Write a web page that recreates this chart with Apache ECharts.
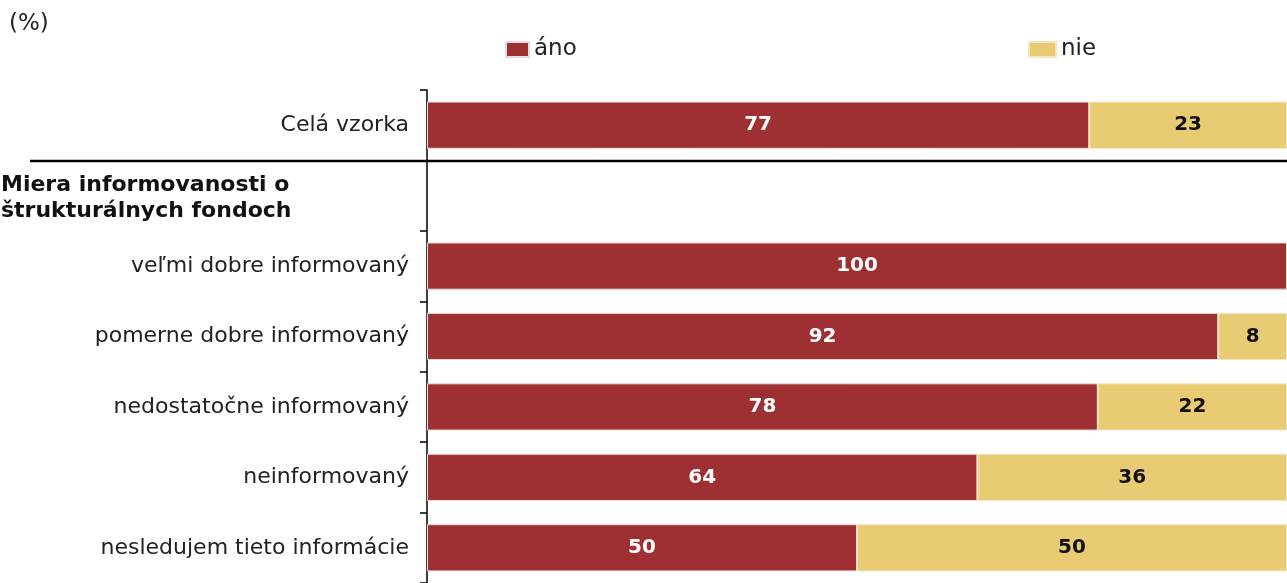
<!DOCTYPE html>
<html>
<head>
<meta charset="utf-8">
<script src="https://cdn.jsdelivr.net/npm/echarts@6/dist/echarts.min.js"></script>
<style>
	html, body { margin: 0; padding: 0; background: #fff; }
	#chart { width: 1287px; height: 583px; }
</style>
</head>
<body>
<div id="chart"></div>
<script>
// kategorie (prazdny riadok = nadpis skupiny)
var categories = ['Celá vzorka', '', 'veľmi dobre informovaný', 'pomerne dobre informovaný',
	'nedostatočne informovaný', 'neinformovaný', 'nesledujem tieto informácie'];
var anoValues = [77, null, 100, 92, 78, 64, 50];
var nieValues = [23, null, 0, 8, 22, 36, 50];
var seriesNames = ['áno', 'nie'];
var groupTitle = 'Miera informovanosti o\nštrukturálnych fondoch';

var RED = '#9e3033';
var YELLOW = '#e8cb72';
var FONT = 'Verdana, "DejaVu Sans", sans-serif';

var chart = echarts.init(document.getElementById('chart'));

//   popisky hodnot, nuly skryt
function valueLabel(color) {
	return {
		show: true,
		position: 'inside',
		color: color,
		fontFamily: FONT,
		fontWeight: 'bold',
		fontSize: 20,
		formatter: function (p) { return p.value ? p.value : ''; }
	};
}

chart.setOption({
	animation: false,
	textStyle: { fontFamily: FONT },
	legend: [{
		left: 500, top: 33,
		itemWidth: 23, itemHeight: 15,
		icon: 'rect',
		data: [seriesNames[0]],
		textStyle: { fontSize: 23, color: '#222', fontFamily: FONT, padding: [0, 0, 0, 0] }
	}, {
		left: 1023, top: 33,
		itemWidth: 27, itemHeight: 15,
		icon: 'rect',
		data: [seriesNames[1]],
		textStyle: { fontSize: 23, color: '#222', fontFamily: FONT, padding: [0, 0, 0, 0] }
	}],
	grid: { left: 427, top: 90, width: 862, height: 500 },
	xAxis: { type: 'value', min: 0, max: 100, show: false },
	yAxis: {
		type: 'category',
		inverse: true,
		data: categories,
		axisLine: { lineStyle: { color: '#000', width: 1.5 } },
		axisTick: { show: true, length: 7, interval: 0, lineStyle: { color: '#000', width: 1.5 } },
		axisLabel: { margin: 18, fontSize: 22, color: '#222', fontFamily: FONT, interval: 0 }
	},
	series: [{
		name: seriesNames[0],
		type: 'bar',
		stack: 'a',
		data: anoValues,
		barCategoryGap: '33%',
		itemStyle: { color: RED, borderColor: '#e6dcdc', borderWidth: 1 },
		label: valueLabel('#fff')
	}, {
		name: seriesNames[1],
		type: 'bar',
		stack: 'a',
		data: nieValues,
		itemStyle: { color: YELLOW, borderColor: '#f3e6bd', borderWidth: 1 },
		label: valueLabel('#111')
	}]
});

//   oddelovacia ciara a nadpis skupiny
var y0 = chart.convertToPixel({ yAxisIndex: 0 }, categories[0]);
var y1 = chart.convertToPixel({ yAxisIndex: 0 }, categories[1]);
var sepY = Math.round((y0 + y1) / 2) + 1;

chart.setOption({
	graphic: [{
		type: 'text',
		left: 9, top: 13,
		style: { text: '(%)', fontSize: 23, fill: '#222', fontFamily: FONT }
	}, {
		type: 'line',
		shape: { x1: 30, y1: sepY, x2: 1287, y2: sepY },
		style: { stroke: '#000', lineWidth: 2.5 }
	}, {
		type: 'text',
		left: 1, top: y1 - 23,
		style: {
			text: groupTitle,
			fontSize: 22,
			fontWeight: 'bold',
			lineHeight: 26,
			fill: '#111',
			fontFamily: FONT
		}
	}]
});
</script>
</body>
</html>
